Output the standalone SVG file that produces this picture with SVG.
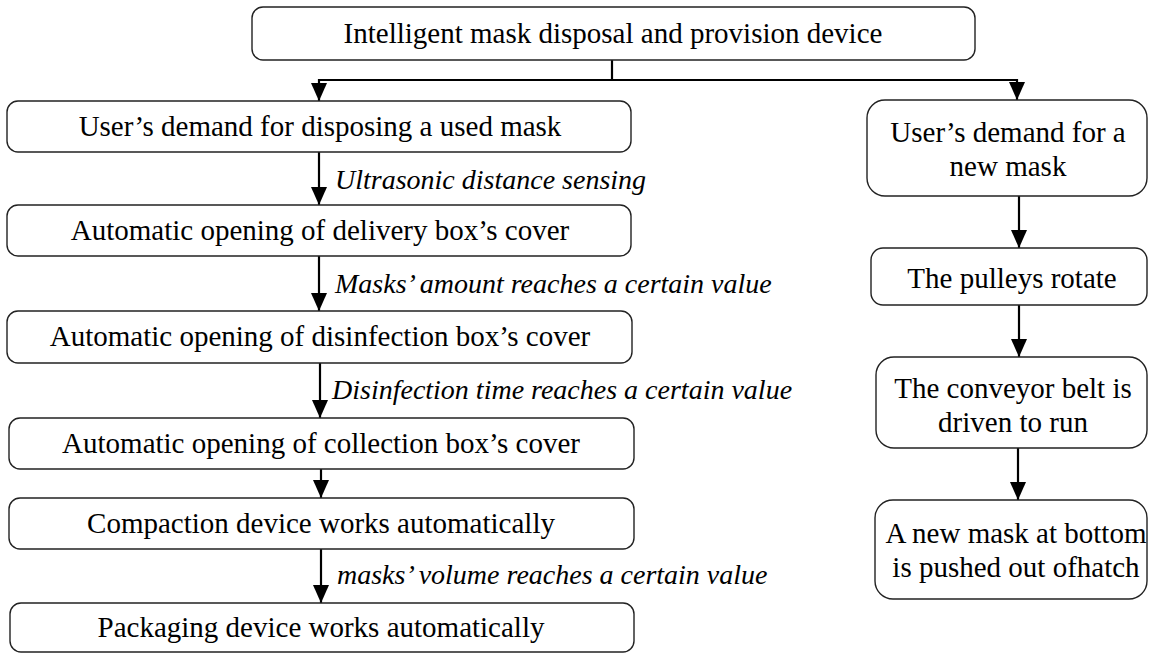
<svg xmlns="http://www.w3.org/2000/svg" width="1149" height="653" viewBox="0 0 1149 653">
  <style>
    .box { fill: #ffffff; stroke: #222222; stroke-width: 1.4; }
    .wire { fill: none; stroke: #000000; stroke-width: 2.2; }
    .t { font-family: "Liberation Serif", "Times New Roman", serif; font-size: 29px; fill: #000000; text-anchor: middle; }
    .lbl { font-family: "Liberation Serif", "Times New Roman", serif; font-size: 28px; font-style: italic; fill: #000000; }
  </style>
  <defs>
    <marker id="arrow" markerUnits="userSpaceOnUse" markerWidth="18" markerHeight="16" viewBox="0 0 18 16" refX="18" refY="8" orient="auto">
      <path d="M0,0 L18,8 L0,16 Z" fill="#000000"/>
    </marker>
  </defs>

  <rect width="1149" height="653" fill="#ffffff"/>

  <!-- connectors: tree split from the root, then the two vertical chains -->
  <g id="connectors">
    <path class="wire" d="M612,60 V80 H319"/>
    <path class="wire" d="M612,80 H1017"/>
    <line class="wire" x1="319" y1="79" x2="319" y2="101" marker-end="url(#arrow)"/>
    <line class="wire" x1="1017" y1="79" x2="1017" y2="100" marker-end="url(#arrow)"/>
    <line class="wire" x1="319" y1="152" x2="319" y2="205" marker-end="url(#arrow)"/>
    <line class="wire" x1="319" y1="256" x2="319" y2="311" marker-end="url(#arrow)"/>
    <line class="wire" x1="320" y1="363" x2="320" y2="418" marker-end="url(#arrow)"/>
    <line class="wire" x1="321" y1="469" x2="321" y2="498" marker-end="url(#arrow)"/>
    <line class="wire" x1="321" y1="549" x2="321" y2="603" marker-end="url(#arrow)"/>
    <line class="wire" x1="1019" y1="196" x2="1019" y2="248" marker-end="url(#arrow)"/>
    <line class="wire" x1="1019" y1="305" x2="1019" y2="357" marker-end="url(#arrow)"/>
    <line class="wire" x1="1018" y1="448" x2="1018" y2="500" marker-end="url(#arrow)"/>
    <text class="lbl" x="335" y="189">Ultrasonic distance sensing</text>
    <text class="lbl" x="335" y="293">Masks’ amount reaches a certain value</text>
    <text class="lbl" x="332" y="399">Disinfection time reaches a certain value</text>
    <text class="lbl" x="337" y="584">masks’ volume reaches a certain value</text>
  </g>

  <g id="root">
    <rect class="box" x="252" y="7" width="723" height="53" rx="11"/>
    <text class="t" x="613" y="43">Intelligent mask disposal and provision device</text>
  </g>

  <g id="dispose-demand">
    <rect class="box" x="7" y="101" width="624" height="51" rx="11"/>
    <text class="t" x="320" y="136">User’s demand for disposing a used mask</text>
  </g>
  <g id="delivery-cover">
    <rect class="box" x="7" y="205" width="624" height="51" rx="11"/>
    <text class="t" x="320" y="240">Automatic opening of delivery box’s cover</text>
  </g>
  <g id="disinfection-cover">
    <rect class="box" x="7" y="311" width="625" height="52" rx="11"/>
    <text class="t" x="320" y="346">Automatic opening of disinfection box’s cover</text>
  </g>
  <g id="collection-cover">
    <rect class="box" x="9" y="418" width="625" height="51" rx="11"/>
    <text class="t" x="321" y="453">Automatic opening of collection box’s cover</text>
  </g>
  <g id="compaction">
    <rect class="box" x="9" y="498" width="625" height="51" rx="11"/>
    <text class="t" x="321" y="533">Compaction device works automatically</text>
  </g>
  <g id="packaging">
    <rect class="box" x="10" y="603" width="624" height="49" rx="11"/>
    <text class="t" x="321" y="637">Packaging device works automatically</text>
  </g>

  <g id="new-mask-demand">
    <rect class="box" x="867" y="100" width="280" height="96" rx="18"/>
    <text class="t" x="1008" y="142">User’s demand for a</text>
    <text class="t" x="1008" y="176">new mask</text>
  </g>
  <g id="pulleys">
    <rect class="box" x="871" y="248" width="276" height="57" rx="12"/>
    <text class="t" x="1012" y="288">The pulleys rotate</text>
  </g>
  <g id="conveyor">
    <rect class="box" x="876" y="357" width="271" height="91" rx="18"/>
    <text class="t" x="1013" y="398">The conveyor belt is</text>
    <text class="t" x="1013" y="432">driven to run</text>
  </g>
  <g id="push-out">
    <rect class="box" x="875" y="500" width="272" height="99" rx="18"/>
    <text class="t" x="1016" y="543">A new mask at bottom</text>
    <text class="t" x="1016" y="577">is pushed out ofhatch</text>
  </g>
</svg>
